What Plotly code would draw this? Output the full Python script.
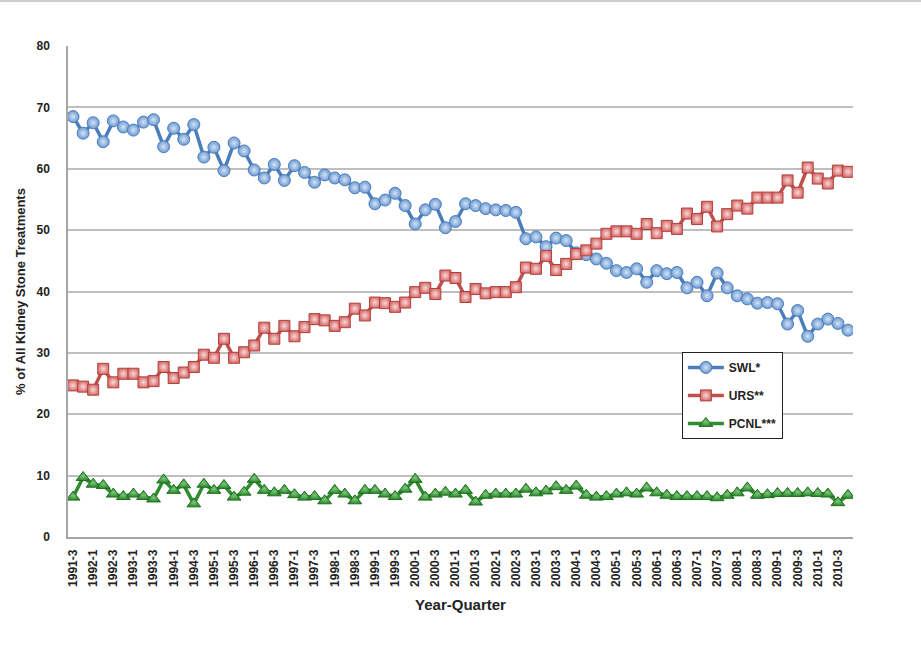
import plotly.graph_objects as go

# Categories: quarters 1991-3 .. 2010-4
years = list(range(1991, 2011))
quarters = [f"{y}-{q}" for y in years for q in (1, 2, 3, 4)][2:]  # start at 1991-3
tick_labels = quarters[::2]

swl = [68.5, 65.8, 67.5, 64.4, 67.8, 66.8, 66.3, 67.6, 68.0, 63.6,
       66.6, 64.8, 67.2, 61.9, 63.5, 59.7, 64.2, 62.9, 59.8, 58.5,
       60.7, 58.1, 60.5, 59.4, 57.8, 59.0, 58.5, 58.2, 56.9, 57.0,
       54.3, 54.9, 56.0, 54.0, 51.0, 53.3, 54.2, 50.4, 51.4, 54.3,
       54.0, 53.5, 53.3, 53.2, 52.9, 48.6, 48.9, 47.3, 48.7, 48.3,
       46.3, 46.0, 45.3, 44.6, 43.4, 43.1, 43.7, 41.5, 43.4, 42.9,
       43.1, 40.6, 41.5, 39.3, 43.0, 40.6, 39.3, 38.8, 38.1, 38.2,
       38.0, 34.7, 36.9, 32.7, 34.7, 35.5, 34.8, 33.7]

urs = [24.7, 24.5, 24.0, 27.4, 25.2, 26.6, 26.6, 25.2, 25.4, 27.7,
       25.9, 26.8, 27.7, 29.7, 29.2, 32.3, 29.2, 30.1, 31.2, 34.1,
       32.3, 34.4, 32.7, 34.2, 35.5, 35.3, 34.4, 35.0, 37.2, 36.1,
       38.2, 38.1, 37.5, 38.2, 39.9, 40.6, 39.6, 42.6, 42.2, 39.1,
       40.4, 39.7, 39.9, 39.9, 40.7, 43.9, 43.7, 45.8, 43.5, 44.5,
       46.1, 46.7, 47.8, 49.4, 49.8, 49.8, 49.4, 51.0, 49.5, 50.7,
       50.2, 52.7, 51.8, 53.8, 50.6, 52.6, 54.0, 53.5, 55.3, 55.3,
       55.3, 58.1, 56.1, 60.2, 58.4, 57.6, 59.7, 59.5]

pcnl = [6.5, 9.7, 8.6, 8.4, 7.0, 6.6, 7.0, 6.6, 6.2, 9.3,
        7.6, 8.5, 5.4, 8.6, 7.6, 8.4, 6.5, 7.3, 9.4, 7.6,
        7.2, 7.6, 6.9, 6.5, 6.6, 5.9, 7.6, 7.0, 5.9, 7.6,
        7.6, 7.0, 6.6, 7.8, 9.4, 6.5, 7.0, 7.3, 7.0, 7.6,
        5.7, 6.8, 7.0, 7.0, 7.0, 7.8, 7.2, 7.5, 8.2, 7.6,
        8.3, 6.8, 6.5, 6.6, 7.0, 7.2, 7.0, 8.0, 7.2, 6.8,
        6.6, 6.6, 6.6, 6.6, 6.4, 6.8, 7.2, 8.0, 6.8, 6.9,
        7.1, 7.1, 7.1, 7.2, 7.1, 7.0, 5.6, 6.8]

FONT = "Liberation Sans"

fig = go.Figure()
fig.add_trace(go.Scatter(
    x=quarters, y=swl, name="SWL*", mode="lines+markers", legendgroup="a",
    line=dict(color="#4A7EBB", width=3.5),
    marker=dict(symbol="circle", size=12, color="#6E9AD2",
                gradient=dict(type="radial", color="#D4E3F5"),
                line=dict(color="#4A7EBB", width=1))))
fig.add_trace(go.Scatter(
    x=quarters, y=urs, name="URS**", mode="lines+markers", legendgroup="b",
    line=dict(color="#C0504D", width=3.5),
    marker=dict(symbol="square", size=11, color="#D7706E",
                gradient=dict(type="radial", color="#F8D9D8"),
                line=dict(color="#B03F3C", width=1))))
fig.add_trace(go.Scatter(
    x=quarters, y=pcnl, name="PCNL***", mode="lines+markers", legendgroup="c",
    line=dict(color="#2E8B2E", width=3.5),
    marker=dict(symbol="triangle-up", size=12, color="#2E8B2E",
                gradient=dict(type="radial", color="#7CC67C"),
                line=dict(color="#1F6F1F", width=1))))

fig.update_layout(
    width=921, height=658,
    margin=dict(l=68, r=68, t=46, b=121),
    paper_bgcolor="white", plot_bgcolor="white",
    font=dict(family=FONT, color="#222222"),
    showlegend=True,
    legend=dict(x=0.782, y=0.377, xanchor="left", yanchor="top",
                bgcolor="white", bordercolor="#222222", borderwidth=1,
                font=dict(family=FONT, size=12, color="#222222", weight="bold"),
                traceorder="grouped", tracegroupgap=9, itemwidth=36),
    xaxis=dict(type="category", categoryorder="array", categoryarray=quarters,
               tickmode="array", tickvals=tick_labels, ticktext=tick_labels,
               tickangle=-90, tickfont=dict(family=FONT, size=12, color="#222222", weight="bold"),
               ticklabelstandoff=6,
               showgrid=False, showline=True, linecolor="#A6A6A6", linewidth=1.5,
               range=[-0.5, len(quarters) - 0.5], ticks="",
               title=dict(text="<b>Year-Quarter</b>", font=dict(family=FONT, size=15, color="#222222"),
                          standoff=14)),
    yaxis=dict(range=[0, 80], dtick=10, showgrid=True, gridcolor="#BFBFBF", gridwidth=1.5,
               showline=True, linecolor="#A6A6A6", linewidth=1.5, zeroline=False,
               tickfont=dict(family=FONT, size=12, color="#222222", weight="bold"),
               ticklabelstandoff=14, ticks="", ticklen=0,
               title=dict(text="<b>% of All Kidney Stone Treatments</b>",
                          font=dict(family=FONT, size=13, color="#222222"), standoff=8)),
)

# faint border line across the top of the image
fig.add_shape(type="line", xref="paper", yref="paper",
              x0=-68 / 785, x1=(921 - 68) / 785, y0=1 + 45 / 491, y1=1 + 45 / 491,
              line=dict(color="#9A9A9A", width=1))

fig.write_html("out.html", config={"displayModeBar": False},
               post_script="document.body.style.margin='0';")
